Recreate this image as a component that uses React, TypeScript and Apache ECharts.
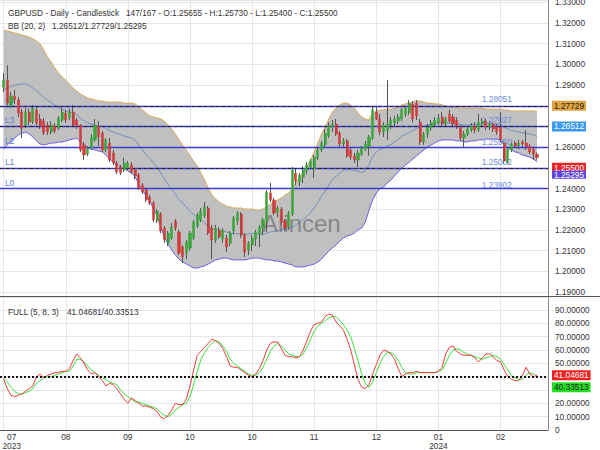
import React, { useEffect, useRef } from 'react';
import * as echarts from 'echarts';

const FONT = '"Liberation Sans", Arial, Helvetica, sans-serif';
const FS = 8.3;

// x-axis tick labels, one every 17 bars starting at bar 0
const tickLabels = ['07\n2023', '08', '09', '10', '10', '11', '12', '01\n2024', '02'];
const barsPerTick = 17;

const opens = [
  1.2890, 1.2924, 1.2803, 1.2847, 1.2828, 1.2770, 1.2707, 1.2770, 1.2722, 1.2780,
  1.2736, 1.2726, 1.2707, 1.2673, 1.2702, 1.2692, 1.2731, 1.2765, 1.2741, 1.2770,
  1.2731, 1.2707, 1.2611, 1.2567, 1.2596, 1.2635, 1.2702, 1.2668, 1.2586, 1.2620,
  1.2572, 1.2523, 1.2504, 1.2490, 1.2499, 1.2514, 1.2490, 1.2465, 1.2417, 1.2393,
  1.2359, 1.2330, 1.2243, 1.2277, 1.2209, 1.2136, 1.2161, 1.2243, 1.2190, 1.2117,
  1.2088, 1.2112, 1.2161, 1.2219, 1.2248, 1.2267, 1.2306, 1.2209, 1.2151, 1.2200,
  1.2156, 1.2161, 1.2136, 1.2195, 1.2243, 1.2277, 1.2175, 1.2103, 1.2127, 1.2156,
  1.2180, 1.2209, 1.2243, 1.2378, 1.2345, 1.2282, 1.2301, 1.2243, 1.2214, 1.2277,
  1.2475, 1.2431, 1.2455, 1.2485, 1.2504, 1.2494, 1.2548, 1.2586, 1.2611, 1.2654,
  1.2697, 1.2712, 1.2668, 1.2615, 1.2630, 1.2586, 1.2557, 1.2538, 1.2567, 1.2591,
  1.2601, 1.2644, 1.2770, 1.2736, 1.2673, 1.2678, 1.2707, 1.2717, 1.2726, 1.2736,
  1.2760, 1.2765, 1.2808, 1.2813, 1.2721, 1.2625, 1.2663, 1.2692, 1.2707, 1.2717,
  1.2746, 1.2712, 1.2760, 1.2746, 1.2731, 1.2697, 1.2644, 1.2663, 1.2683, 1.2702,
  1.2683, 1.2712, 1.2726, 1.2697, 1.2712, 1.2697, 1.2697, 1.2620, 1.2528, 1.2586,
  1.2620, 1.2605, 1.2625, 1.2620, 1.2605, 1.2591, 1.25655,
];
const highs = [
  1.2958, 1.2995, 1.2866, 1.2876, 1.2842, 1.2785, 1.2789, 1.2785, 1.2804, 1.2794,
  1.2760, 1.2741, 1.2721, 1.2726, 1.2717, 1.2750, 1.2789, 1.2780, 1.2785, 1.2804,
  1.2741, 1.2712, 1.2625, 1.2605, 1.2663, 1.2736, 1.2726, 1.2678, 1.2644, 1.2644,
  1.2586, 1.2533, 1.2514, 1.2548, 1.2533, 1.2528, 1.2499, 1.2475, 1.2426, 1.2402,
  1.2369, 1.2340, 1.2301, 1.2286, 1.2219, 1.2195, 1.2234, 1.2253, 1.2200, 1.2127,
  1.2151, 1.2195, 1.2248, 1.2282, 1.2306, 1.2335, 1.2316, 1.2224, 1.2224, 1.2214,
  1.2209, 1.2175, 1.2195, 1.2267, 1.2291, 1.2286, 1.2185, 1.2146, 1.2175, 1.2200,
  1.2224, 1.2258, 1.2393, 1.2427, 1.2354, 1.2316, 1.2311, 1.2253, 1.2291, 1.2504,
  1.2494, 1.2475, 1.2509, 1.2528, 1.2543, 1.2562, 1.2596, 1.2630, 1.2688, 1.2721,
  1.2731, 1.2736, 1.2678, 1.2644, 1.2639, 1.2596, 1.2572, 1.2586, 1.2605, 1.2630,
  1.2659, 1.2794, 1.2794, 1.2760, 1.2721, 1.2924, 1.2746, 1.2750, 1.2760, 1.2789,
  1.2799, 1.2828, 1.2823, 1.2828, 1.2736, 1.2673, 1.2712, 1.2731, 1.2746, 1.2760,
  1.2770, 1.2746, 1.2780, 1.2760, 1.2746, 1.2707, 1.2678, 1.2702, 1.2717, 1.2721,
  1.2760, 1.2741, 1.2736, 1.2726, 1.2721, 1.2712, 1.2770, 1.2635, 1.2600, 1.2625,
  1.2630, 1.2635, 1.2635, 1.2683, 1.2615, 1.2601, 1.25730,
];
const lows = [
  1.2866, 1.2803, 1.2789, 1.2808, 1.2746, 1.2644, 1.2692, 1.2707, 1.2712, 1.2707,
  1.2688, 1.2659, 1.2659, 1.2663, 1.2668, 1.2683, 1.2721, 1.2717, 1.2731, 1.2697,
  1.2688, 1.2576, 1.2538, 1.2557, 1.2586, 1.2625, 1.2605, 1.2576, 1.2576, 1.2528,
  1.2514, 1.2470, 1.2465, 1.2480, 1.2490, 1.2470, 1.2446, 1.2393, 1.2373, 1.2335,
  1.2320, 1.2238, 1.2233, 1.2185, 1.2137, 1.2122, 1.2151, 1.2195, 1.2078, 1.2040,
  1.2059, 1.2098, 1.2151, 1.2209, 1.2238, 1.2258, 1.2175, 1.2060, 1.2137, 1.2156,
  1.2137, 1.2093, 1.2122, 1.2180, 1.2224, 1.2161, 1.2069, 1.2078, 1.2098, 1.2122,
  1.2117, 1.2175, 1.2190, 1.2335, 1.2272, 1.2262, 1.2224, 1.2195, 1.2200, 1.2267,
  1.2417, 1.2412, 1.2426, 1.2470, 1.2490, 1.2451, 1.2538, 1.2576, 1.2601, 1.2644,
  1.2673, 1.2654, 1.2601, 1.2596, 1.2548, 1.2538, 1.2523, 1.2504, 1.2557, 1.2581,
  1.2560, 1.2635, 1.2731, 1.2659, 1.2649, 1.2634, 1.2688, 1.2702, 1.2712, 1.2726,
  1.2746, 1.2755, 1.2721, 1.2731, 1.2611, 1.2611, 1.2644, 1.2678, 1.2697, 1.2707,
  1.2697, 1.2697, 1.2717, 1.2697, 1.2688, 1.2630, 1.2601, 1.2654, 1.2673, 1.2668,
  1.2673, 1.2697, 1.2683, 1.2683, 1.2673, 1.2659, 1.2625, 1.2518, 1.2520, 1.2576,
  1.2596, 1.2591, 1.2601, 1.2586, 1.2567, 1.2538, 1.25400,
];
const closes = [
  1.2924, 1.2813, 1.2847, 1.2828, 1.2765, 1.2692, 1.2770, 1.2722, 1.2789, 1.2717,
  1.2702, 1.2668, 1.2673, 1.2707, 1.2678, 1.2741, 1.2770, 1.2731, 1.2770, 1.2707,
  1.2702, 1.2586, 1.2562, 1.2596, 1.2649, 1.2707, 1.2649, 1.2586, 1.2635, 1.2538,
  1.2523, 1.2480, 1.2475, 1.2523, 1.2523, 1.2480, 1.2461, 1.2402, 1.2383, 1.2345,
  1.2330, 1.2248, 1.2291, 1.2195, 1.2151, 1.2185, 1.2214, 1.2209, 1.2088, 1.2069,
  1.2141, 1.2185, 1.2238, 1.2272, 1.2291, 1.2311, 1.2185, 1.2151, 1.2209, 1.2166,
  1.2200, 1.2117, 1.2185, 1.2258, 1.2282, 1.2175, 1.2093, 1.2136, 1.2161, 1.2190,
  1.2214, 1.2248, 1.2383, 1.2345, 1.2282, 1.2306, 1.2238, 1.2209, 1.2282, 1.2490,
  1.2436, 1.2465, 1.2490, 1.2514, 1.2533, 1.2552, 1.2586, 1.2620, 1.2668, 1.2702,
  1.2712, 1.2663, 1.2615, 1.2630, 1.2557, 1.2552, 1.2538, 1.2572, 1.2596, 1.2615,
  1.2649, 1.2780, 1.2736, 1.2673, 1.2707, 1.2712, 1.2731, 1.2736, 1.2746, 1.2780,
  1.2789, 1.2813, 1.2736, 1.2751, 1.2625, 1.2663, 1.2697, 1.2717, 1.2731, 1.2741,
  1.2712, 1.2736, 1.2726, 1.2712, 1.2702, 1.2644, 1.2663, 1.2688, 1.2702, 1.2683,
  1.2721, 1.2726, 1.2697, 1.2712, 1.2688, 1.2673, 1.2635, 1.2533, 1.2591, 1.2615,
  1.2605, 1.2620, 1.2615, 1.2601, 1.2577, 1.2567, 1.25500,
];

const bbUpper = [
  1.3166, 1.3161, 1.3157, 1.3152, 1.3147, 1.3142, 1.3137, 1.3132, 1.3123, 1.3113,
  1.3099, 1.3070, 1.3036, 1.3012, 1.2983, 1.2958, 1.2939, 1.2924, 1.2905, 1.2886,
  1.2871, 1.2857, 1.2847, 1.2838, 1.2833, 1.2828, 1.2823, 1.2823, 1.2818, 1.2818,
  1.2818, 1.2818, 1.2818, 1.2813, 1.2813, 1.2813, 1.2809, 1.2794, 1.2780, 1.2765,
  1.2751, 1.2746, 1.2741, 1.2736, 1.2726, 1.2707, 1.2688, 1.2664, 1.2635, 1.2610,
  1.2586, 1.2557, 1.2533, 1.2509, 1.2475, 1.2441, 1.2403, 1.2369, 1.2349, 1.2335,
  1.2325, 1.2315, 1.2311, 1.2306, 1.2306, 1.2306, 1.2301, 1.2301, 1.2301, 1.2296,
  1.2296, 1.2301, 1.2311, 1.2325, 1.2335, 1.2345, 1.2354, 1.2369, 1.2378, 1.2398,
  1.2427, 1.2451, 1.2480, 1.2504, 1.2538, 1.2577, 1.2620, 1.2664, 1.2697, 1.2736,
  1.2770, 1.2789, 1.2804, 1.2813, 1.2813, 1.2804, 1.2789, 1.2765, 1.2746, 1.2736,
  1.2731, 1.2765, 1.2775, 1.2780, 1.2780, 1.2784, 1.2784, 1.2789, 1.2794, 1.2804,
  1.2809, 1.2813, 1.2818, 1.2823, 1.2823, 1.2818, 1.2813, 1.2813, 1.2809, 1.2809,
  1.2804, 1.2799, 1.2794, 1.2794, 1.2794, 1.2789, 1.2789, 1.2789, 1.2789, 1.2789,
  1.2789, 1.2789, 1.2784, 1.2784, 1.2784, 1.2784, 1.2784, 1.2780, 1.2780, 1.2775,
  1.2775, 1.2775, 1.2775, 1.2775, 1.2775, 1.2775, 1.27729,
];
const bbMiddle = [
  1.2879, 1.2886, 1.2894, 1.2898, 1.2903, 1.2905, 1.2905, 1.2898, 1.2886, 1.2872,
  1.2857, 1.2840, 1.2826, 1.2816, 1.2802, 1.2792, 1.2782, 1.2777, 1.2770, 1.2763,
  1.2758, 1.2741, 1.2727, 1.2717, 1.2712, 1.2707, 1.2702, 1.2700, 1.2690, 1.2681,
  1.2673, 1.2666, 1.2661, 1.2654, 1.2649, 1.2644, 1.2633, 1.2608, 1.2587, 1.2565,
  1.2546, 1.2524, 1.2504, 1.2475, 1.2446, 1.2420, 1.2396, 1.2372, 1.2347, 1.2328,
  1.2311, 1.2292, 1.2275, 1.2263, 1.2248, 1.2234, 1.2219, 1.2207, 1.2202, 1.2197,
  1.2195, 1.2190, 1.2185, 1.2181, 1.2181, 1.2181, 1.2178, 1.2180, 1.2183, 1.2180,
  1.2180, 1.2180, 1.2183, 1.2190, 1.2193, 1.2198, 1.2200, 1.2205, 1.2207, 1.2214,
  1.2224, 1.2236, 1.2251, 1.2265, 1.2284, 1.2306, 1.2333, 1.2362, 1.2388, 1.2417,
  1.2442, 1.2458, 1.2475, 1.2487, 1.2492, 1.2490, 1.2487, 1.2483, 1.2478, 1.2487,
  1.2514, 1.2555, 1.2577, 1.2589, 1.2594, 1.2606, 1.2613, 1.2625, 1.2637, 1.2652,
  1.2662, 1.2671, 1.2681, 1.2690, 1.2698, 1.2702, 1.2707, 1.2712, 1.2715, 1.2720,
  1.2720, 1.2717, 1.2715, 1.2715, 1.2712, 1.2710, 1.2707, 1.2707, 1.2710, 1.2710,
  1.2712, 1.2712, 1.2712, 1.2712, 1.2712, 1.2712, 1.2710, 1.2695, 1.2688, 1.2681,
  1.2676, 1.2674, 1.2669, 1.2666, 1.2664, 1.2659, 1.26512,
];
const bbLower = [
  1.2591, 1.2610, 1.2630, 1.2644, 1.2659, 1.2668, 1.2673, 1.2664, 1.2649, 1.2630,
  1.2615, 1.2610, 1.2615, 1.2620, 1.2620, 1.2625, 1.2625, 1.2630, 1.2635, 1.2639,
  1.2644, 1.2625, 1.2606, 1.2596, 1.2591, 1.2586, 1.2581, 1.2577, 1.2562, 1.2543,
  1.2528, 1.2514, 1.2504, 1.2494, 1.2485, 1.2475, 1.2456, 1.2422, 1.2393, 1.2364,
  1.2340, 1.2301, 1.2267, 1.2214, 1.2166, 1.2132, 1.2103, 1.2079, 1.2059, 1.2045,
  1.2035, 1.2026, 1.2016, 1.2016, 1.2021, 1.2026, 1.2035, 1.2045, 1.2055, 1.2059,
  1.2064, 1.2064, 1.2059, 1.2055, 1.2055, 1.2055, 1.2055, 1.2059, 1.2064, 1.2064,
  1.2064, 1.2059, 1.2055, 1.2055, 1.2050, 1.2050, 1.2045, 1.2040, 1.2035, 1.2030,
  1.2021, 1.2021, 1.2021, 1.2026, 1.2030, 1.2035, 1.2045, 1.2059, 1.2079, 1.2098,
  1.2113, 1.2127, 1.2146, 1.2161, 1.2171, 1.2175, 1.2185, 1.2200, 1.2209, 1.2238,
  1.2296, 1.2345, 1.2378, 1.2398, 1.2407, 1.2427, 1.2441, 1.2461, 1.2480, 1.2499,
  1.2514, 1.2528, 1.2543, 1.2557, 1.2572, 1.2586, 1.2601, 1.2610, 1.2620, 1.2630,
  1.2635, 1.2635, 1.2635, 1.2635, 1.2630, 1.2630, 1.2625, 1.2625, 1.2630, 1.2630,
  1.2635, 1.2635, 1.2639, 1.2639, 1.2639, 1.2639, 1.2635, 1.2610, 1.2596, 1.2586,
  1.2577, 1.2572, 1.2562, 1.2557, 1.2552, 1.2543, 1.25295,
];

const stochK = [
  38, 31, 26, 25, 26, 27, 29, 31, 33, 40,
  42, 39, 41, 42, 43, 43, 44, 44, 46, 52,
  57, 54, 50, 45, 42, 43, 40, 37, 33, 35,
  34, 31, 27, 23, 20, 24, 22, 20, 18, 18,
  17, 16, 14, 9.5, 8.5, 11, 15, 20, 19, 19,
  23, 33, 45, 56, 59, 62, 65, 68, 67, 65,
  61, 55, 48, 47, 47, 45, 43, 41, 40, 42,
  46, 52, 60, 65, 66, 66, 61, 56, 55, 55,
  54, 55, 60, 67, 74, 79, 80, 81, 85, 87,
  86, 81, 78, 75, 68, 60, 49, 38, 32, 31,
  34, 42, 49, 56, 60, 59, 57, 53, 46, 40,
  42, 43, 43, 44, 43, 43, 43, 43, 43, 44,
  47, 57, 62, 63, 59, 57, 56, 56, 56, 54,
  51, 54, 57, 57, 55, 52, 51, 45, 40, 38,
  37, 37, 41, 47, 42, 40, 41.04681,
];
const stochD = [
  39, 36, 32, 29, 27, 27, 28, 29, 31, 35,
  37, 39, 40, 40, 41, 42, 43, 44, 44, 48,
  53, 53, 51, 48, 45, 43, 41, 39, 38, 36,
  35, 34, 30, 27, 25, 23, 21, 21, 20, 19,
  18, 17, 16, 13, 11, 10, 12, 15, 17, 19,
  20, 25, 34, 44, 53, 58, 62, 65, 67, 66,
  63, 59, 53, 50, 48, 46, 44, 42, 41, 41,
  43, 47, 53, 59, 63, 65, 63, 60, 57, 56,
  55, 55, 57, 62, 68, 74, 78, 80, 82, 84,
  85, 85, 82, 79, 75, 70, 61, 52, 42, 35,
  32, 36, 43, 50, 55, 58, 58, 56, 52, 47,
  43, 42, 42, 43, 43, 43, 43, 43, 43, 44,
  45, 50, 56, 60, 61, 60, 58, 57, 56, 55,
  54, 53, 54, 55, 56, 55, 53, 49, 45, 41,
  39, 38, 38, 41, 43, 42, 40.33513,
];

const levelValues = [1.23902, 1.25002, 1.2596, 1.27027, 1.28051];
const levelNames = ['L0', 'L1', 'L2', 'L3', 'L4'];
const lastUpper = 1.27729;
const lastMiddle = 1.26512;
const lastClose = 1.255;
const lastLower = 1.25295;
const lastK = 41.04681;
const lastD = 40.33513;
const stochRefLevel = 40;
// where the pushed-down %D tag sits on its axis (nudged to clear the %K tag)
const dTagAt = 32.0;
// axis tick labels that the value tags cover in the reference
const coveredPriceTicks = [1.25];
const coveredStochTicks = [30, 40];

const LEAD = 1;
const TRAIL = 3;
const LEVEL_LABEL_BAR = 135;

function buildOption() {
  const n = closes.length;
  const catCount = LEAD + n + TRAIL;
  const isTick = (c: number) => {
    const j = c - LEAD;
    return j >= 0 && j % barsPerTick === 0 && j / barsPerTick < tickLabels.length;
  };
  const categories = Array.from({ length: catCount }, (_, c) =>
    isTick(c) ? tickLabels[(c - LEAD) / barsPerTick] : ''
  );
  const pad = (arr: any[]) => [
    ...Array(LEAD).fill('-'),
    ...arr,
    ...Array(TRAIL).fill('-'),
  ];

  const wickData = pad(closes.map((c, i) => [opens[i], c, lows[i], highs[i]]));
  const bodyData = pad(
    closes.map((c, i) => [opens[i], c, Math.min(opens[i], c), Math.max(opens[i], c)])
  );
  const bandWidth = pad(bbUpper.map((u, i) => +(u - bbLower[i]).toFixed(5)));

  const yMin = 1.19 - 5 / 2069;
  const yMax = 1.32 + 23 / 2069;

  const dashStyle = () => ({ color: '#222', type: [3, 3], width: 1 });
  const hiddenLine = () => ({ color: 'rgba(0,0,0,0)', width: 0 });

  const tagLabel = (text: string, bg: string, fg: string, shift = 0) =>
    shift
      ? {
          show: true,
          position: 'end',
          distance: 4,
          formatter: `{a|${text}}`,
          padding: [shift * 2, 0, 0, 0],
          rich: {
            a: {
              backgroundColor: bg, color: fg, padding: [0, 2, 0, 2], lineHeight: 10,
              fontSize: FS, fontFamily: FONT,
            },
          },
        }
      : {
          show: true,
          position: 'end',
          distance: 4,
          formatter: text,
          backgroundColor: bg,
          color: fg,
          padding: [0, 2, 0, 2],
          lineHeight: 10,
          fontSize: FS,
          fontFamily: FONT,
        };

  const xAxisBase = {
    type: 'category',
    data: categories,
    boundaryGap: false,
    axisTick: { show: false },
    splitLine: { show: true, interval: (c: number) => isTick(c), lineStyle: { color: '#e6e6e6' } },
  };

  return {
    animation: false,
    backgroundColor: '#fff',
    textStyle: { fontFamily: FONT },
    grid: [
      { left: 0, right: 52, top: 0, height: 297, containLabel: false, outerBoundsMode: 'none' },
      { left: 0, right: 52, top: 296.6, height: 133.4, containLabel: false, outerBoundsMode: 'none' },
    ],
    xAxis: [
      { ...xAxisBase, gridIndex: 0, axisLine: { show: false }, axisLabel: { show: false } },
      {
        ...xAxisBase,
        gridIndex: 1,
        axisLine: { show: true, lineStyle: { color: '#555' } },
        axisLabel: {
          show: true,
          interval: (c: number) => isTick(c),
          margin: 3,
          fontSize: FS,
          lineHeight: 8.5,
          color: '#333',
          fontFamily: FONT,
          formatter: (val: string, idx: number) =>
            idx === LEAD ? val.split('\n').map((s) => `{f|${s}}`).join('\n') : val,
          rich: {
            f: { padding: [0, 0, 0, 16], fontSize: FS, lineHeight: 8.5, color: '#333', fontFamily: FONT },
          },
        },
      },
    ],
    yAxis: [
      {
        type: 'value',
        gridIndex: 0,
        position: 'right',
        min: yMin,
        max: yMax,
        splitNumber: 14,
        axisLine: { show: true, lineStyle: { color: '#888' } },
        axisTick: { show: false },
        axisLabel: {
          formatter: (v: number) =>
            coveredPriceTicks.some((t) => Math.abs(t - v) < 1e-7) ? '' : v.toFixed(5),
          showMinLabel: false,
          showMaxLabel: false,
          margin: 7,
          fontSize: FS,
          color: '#333',
          fontFamily: FONT,
        },
        splitLine: { show: true, lineStyle: { color: '#e6e6e6' } },
      },
      {
        type: 'value',
        gridIndex: 1,
        position: 'right',
        min: 0,
        max: 100,
        interval: 10,
        axisLine: { show: true, lineStyle: { color: '#888' } },
        axisTick: { show: false },
        axisLabel: {
          formatter: (v: number) =>
            coveredStochTicks.includes(v)
              ? ''
              : v === 0
              ? '0'
              : v === 100
              ? '{t|100.00000}'
              : v.toFixed(5),
          margin: 7,
          fontSize: FS,
          color: '#333',
          fontFamily: FONT,
          rich: { t: { padding: [12, 0, 0, 0], fontSize: FS, color: '#333', fontFamily: FONT } },
        },
        splitLine: { show: true, lineStyle: { color: '#e6e6e6' } },
      },
    ],
    series: [
      {
        type: 'line', name: 'bbBase', xAxisIndex: 0, yAxisIndex: 0, data: pad(bbLower),
        stack: 'bb', symbol: 'none', silent: true, z: 1, lineStyle: { width: 0, opacity: 0 },
      },
      {
        type: 'line', name: 'bbFill', xAxisIndex: 0, yAxisIndex: 0, data: bandWidth,
        stack: 'bb', symbol: 'none', silent: true, z: 1, lineStyle: { width: 0, opacity: 0 },
        areaStyle: { color: '#c0c0c0', opacity: 1 },
      },
      {
        type: 'line', name: 'bbUpper', xAxisIndex: 0, yAxisIndex: 0, data: pad(bbUpper),
        symbol: 'none', silent: true, z: 2, lineStyle: { color: '#dcaa55', width: 1 },
      },
      {
        type: 'line', name: 'bbLower', xAxisIndex: 0, yAxisIndex: 0, data: pad(bbLower),
        symbol: 'none', silent: true, z: 2, lineStyle: { color: '#6b5fe6', width: 1 },
      },
      {
        type: 'line', name: 'bbMiddle', xAxisIndex: 0, yAxisIndex: 0, data: pad(bbMiddle),
        symbol: 'none', silent: true, z: 2, lineStyle: { color: '#5b84bd', width: 0.8 },
        markLine: {
          silent: true,
          symbol: ['none', 'none'],
          data: [
            ...levelValues.map((v, k) => ({
              yAxis: v,
              lineStyle: { color: '#3b3bd0', width: 1.3, type: 'solid' },
              label: {
                show: true,
                position: 'insideStartTop',
                distance: [5, 2],
                formatter: levelNames[k],
                color: '#5b7bd6',
                fontSize: FS,
                fontFamily: FONT,
              },
            })),
            { yAxis: lastUpper, lineStyle: dashStyle(), label: tagLabel(lastUpper.toFixed(5), '#dea33d', '#222') },
            { yAxis: lastMiddle, lineStyle: dashStyle(), label: tagLabel(lastMiddle.toFixed(5), '#3a9af0', '#fff') },
            { yAxis: lastClose, lineStyle: dashStyle(), label: tagLabel(lastClose.toFixed(5), '#e5262a', '#fff') },
            { yAxis: lastLower, lineStyle: dashStyle(), label: tagLabel(lastLower.toFixed(5), '#5e43e8', '#fff', 7) },
          ],
        },
        markPoint: {
          silent: true,
          symbol: 'circle',
          symbolSize: 1,
          itemStyle: { color: 'rgba(0,0,0,0)' },
          data: levelValues.map((v) => ({
            coord: [LEAD + LEVEL_LABEL_BAR, v],
            value: v,
            label: {
              show: true,
              position: 'top',
              distance: 1,
              formatter: v.toFixed(5),
              color: '#6d8de0',
              fontSize: FS,
              fontFamily: FONT,
            },
          })),
        },
      },
      {
        type: 'candlestick', name: 'wicks', xAxisIndex: 0, yAxisIndex: 0, data: wickData,
        barWidth: 1, z: 4, silent: true,
        itemStyle: { color: '#555', color0: '#555', borderColor: '#555', borderColor0: '#555', borderWidth: 1 },
      },
      {
        type: 'candlestick', name: 'bodies', xAxisIndex: 0, yAxisIndex: 0, data: bodyData,
        barWidth: 2.6, z: 5, silent: true,
        itemStyle: {
          color: '#3aa63a', color0: '#d03b3b', borderColor: '#3aa63a', borderColor0: '#d03b3b', borderWidth: 0.5,
        },
      },
      {
        type: 'line', name: '%D', xAxisIndex: 1, yAxisIndex: 1, data: pad(stochD),
        symbol: 'none', silent: true, z: 3, lineStyle: { color: '#3ce03c', width: 1 },
        markLine: {
          silent: true,
          symbol: ['none', 'none'],
          data: [
            { yAxis: stochRefLevel, lineStyle: { color: '#111', type: [2, 2], width: 2 }, label: { show: false } },
            { yAxis: lastK, lineStyle: hiddenLine(), label: tagLabel(lastK.toFixed(5), '#f02222', '#fff') },
            { yAxis: dTagAt, lineStyle: hiddenLine(), label: tagLabel(lastD.toFixed(5), '#22dd22', '#222') },
          ],
        },
      },
      {
        type: 'line', name: '%K', xAxisIndex: 1, yAxisIndex: 1, data: pad(stochK),
        symbol: 'none', silent: true, z: 3, lineStyle: { color: '#f03c3c', width: 1 },
      },
    ],
    graphic: [
      {
        type: 'text', x: 262, y: 223, z: 3, silent: true,
        style: { text: 'Alincen', fontSize: 24, fontFamily: FONT, fill: 'rgba(85,85,85,0.55)', verticalAlign: 'middle' },
      },
      {
        type: 'text', x: 8, y: 12.7, z: 10, silent: true,
        style: { text: 'GBPUSD - Daily - Candlestick', fontSize: FS, fontFamily: FONT, fill: '#333', verticalAlign: 'middle' },
      },
      {
        type: 'text', x: 126, y: 12.7, z: 10, silent: true,
        style: {
          text: '147/167 - O:1.25655 - H:1.25730 - L:1.25400 - C:1.25500',
          fontSize: FS, fontFamily: FONT, fill: '#333', verticalAlign: 'middle',
        },
      },
      {
        type: 'text', x: 8, y: 26, z: 10, silent: true,
        style: { text: 'BB (20, 2)', fontSize: FS, fontFamily: FONT, fill: '#333', verticalAlign: 'middle' },
      },
      {
        type: 'text', x: 52, y: 26, z: 10, silent: true,
        style: {
          text: `${lastMiddle.toFixed(5)}/${lastUpper.toFixed(5)}/${lastLower.toFixed(5)}`,
          fontSize: FS, fontFamily: FONT, fill: '#333', verticalAlign: 'middle',
        },
      },
      {
        type: 'text', x: 8, y: 311.7, z: 10, silent: true,
        style: { text: 'FULL (5, 8, 3)', fontSize: FS, fontFamily: FONT, fill: '#333', verticalAlign: 'middle' },
      },
      {
        type: 'text', x: 67, y: 311.7, z: 10, silent: true,
        style: {
          text: `${lastK.toFixed(5)}/${lastD.toFixed(5)}`,
          fontSize: FS, fontFamily: FONT, fill: '#333', verticalAlign: 'middle',
        },
      },
      {
        type: 'line', z: 10, silent: true,
        shape: { x1: 0, y1: 296.5, x2: 600, y2: 296.5 },
        style: { stroke: '#555', lineWidth: 1 },
      },
    ],
  };
}

export default function App() {
  const ref = useRef<HTMLDivElement>(null);
  useEffect(() => {
    if (!ref.current) return;
    const chart = echarts.init(ref.current, null, { renderer: 'svg' });
    chart.setOption(buildOption() as any);
    return () => chart.dispose();
  }, []);
  return (
    <div
      ref={ref}
      style={{ position: 'absolute', left: 0, top: 0, width: 600, height: 450 }}
    />
  );
}
